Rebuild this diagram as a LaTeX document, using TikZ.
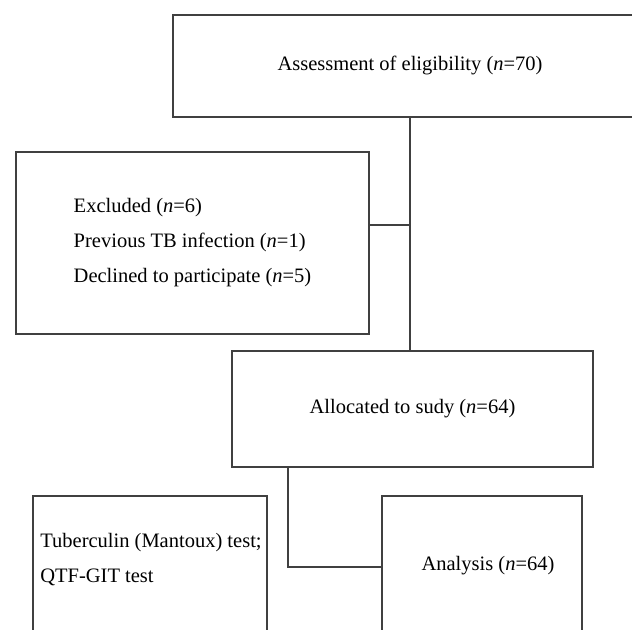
\documentclass[tikz,border=0pt]{standalone}
\usepackage{fontspec}
\setmainfont{Liberation Serif}
\usetikzlibrary{positioning}

\begin{document}
\begin{tikzpicture}[
    x=0.5pt, y=-0.5pt,
    boxtext/.style={inner sep=0pt, font=\fontsize{10.25}{17.5}\selectfont, align=left},
    box/.style={boxtext, rectangle, draw=black!75, line width=1pt},
    line/.style={draw=black!75, line width=1pt}
]
\useasboundingbox (0,0) rectangle (632,630);
\clip (0,0) rectangle (632,630);

% Boxes
\node[box, minimum width=237pt, minimum height=51pt] (assess) at (410,66) {Assessment of eligibility (\textit{n}=70)};
\node[box, minimum width=176.5pt, minimum height=91pt] (excl) at (192.5,243) {Excluded (\textit{n}=6)\\Previous TB infection (\textit{n}=1)\\Declined to participate (\textit{n}=5)};
\node[box, minimum width=180.5pt, minimum height=58pt] (alloc) at (412.5,409) {Allocated to sudy (\textit{n}=64)};
\node[box, anchor=north, minimum width=117pt, minimum height=102.5pt] (tuber) at (150,495) {};
\node[boxtext] (tubertext) at (151,560) {Tuberculin (Mantoux) test;\\QTF-GIT test};
\node[box, anchor=north, minimum width=100pt, minimum height=102.5pt] (analysis) at (482,495) {};
\node[boxtext] (analysistext) at (488,566) {Analysis (\textit{n}=64)};

% Connectors
\coordinate (join) at (410,225);
\coordinate (bend) at (288,567);
\draw[line] (assess.south) -- (assess.south |- alloc.north);
\draw[line] (excl.east |- join) -- (join);
\draw[line] (alloc.south -| bend) -- (bend) -- (bend -| analysis.west);

\end{tikzpicture}
\end{document}
